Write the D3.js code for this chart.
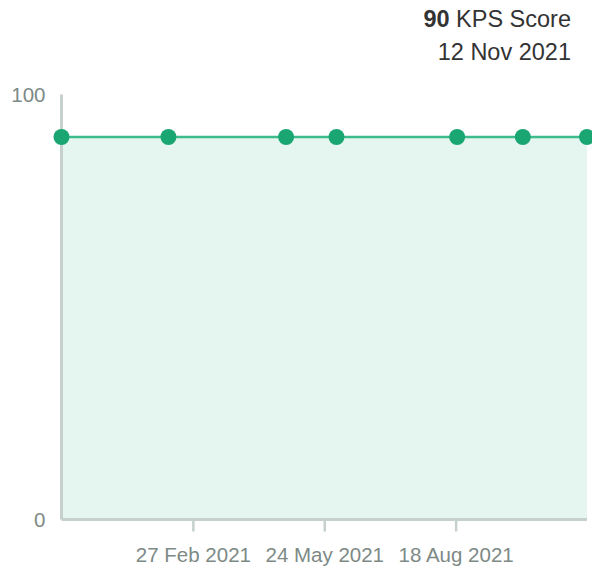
<!DOCTYPE html>
<html>
<head>
<meta charset="utf-8">
<script src="https://cdn.jsdelivr.net/npm/d3@7"></script>
<style>
  html, body { margin: 0; padding: 0; background: #fff; }
  svg { display: block; font-family: "Liberation Sans", Arial, sans-serif; }
</style>
</head>
<body>
<div id="chart"></div>
<script>
// KPS score history
const dates = ["2020-12-03", "2021-02-11", "2021-04-29", "2021-06-01", "2021-08-19", "2021-10-01", "2021-11-12"];
const scores = [90, 90, 90, 90, 90, 90, 90];
const tickDates = ["2021-02-27", "2021-05-24", "2021-08-18"];
const yTicks = [0, 100];

const parse = d3.utcParse("%Y-%m-%d");
const fmt = d3.utcFormat("%-d %b %Y");

const width = 592, height = 569;
const margin = { top: 94.5, right: 5, bottom: 49.5, left: 61.5 };

const svg = d3.select("#chart").append("svg")
  .attr("width", width)
  .attr("height", height);

const points = dates.map((d, i) => ({ date: parse(d), value: scores[i] }));

const x = d3.scaleUtc()
  .domain(d3.extent(points, (d) => d.date))
  .range([margin.left, width - margin.right]);

const y = d3.scaleLinear()
  .domain([0, 100])
  .range([height - margin.bottom, margin.top]);

const axisColor = "#c6d0cc";
const textColor = "#7d8a86";

// Area fill
svg.append("path")
  .datum(points)
  .attr("fill", "#e5f5ef")
  .attr("d", d3.area().x((d) => x(d.date)).y0(y(0)).y1((d) => y(d.value)));

// X axis
const xAxis = svg.append("g")
  .attr("transform", `translate(0,${y(0)})`)
  .call(d3.axisBottom(x)
    .tickValues(tickDates.map(parse))
    .tickFormat(fmt)
    .tickSize(12)
    .tickPadding(16));
xAxis.select(".domain").attr("stroke", axisColor).attr("stroke-width", 3)
  .attr("d", `M${x.range()[0]},0H${x.range()[1]}`);
xAxis.selectAll(".tick line").attr("stroke", axisColor).attr("stroke-width", 2.5);
xAxis.selectAll(".tick text").attr("fill", textColor).style("font-size", "20.5px");

// Y axis
const yAxis = svg.append("g")
  .attr("transform", `translate(${margin.left},0)`)
  .call(d3.axisLeft(y).tickValues(yTicks).tickSize(0).tickPadding(16));
yAxis.select(".domain").attr("stroke", axisColor).attr("stroke-width", 3)
  .attr("d", `M0,${y(100)}V${y(0)}`);
yAxis.selectAll(".tick text").attr("fill", textColor).style("font-size", "20.5px");

// Line
svg.append("path")
  .datum(points)
  .attr("fill", "none")
  .attr("stroke", "#3dbb8c")
  .attr("stroke-width", 2.5)
  .attr("d", d3.line().x((d) => x(d.date)).y((d) => y(d.value)));

// Points
svg.selectAll("circle.pt")
  .data(points)
  .join("circle")
  .attr("class", "pt")
  .attr("cx", (d) => x(d.date))
  .attr("cy", (d) => y(d.value))
  .attr("r", 8)
  .attr("fill", "#1aa673");

// Latest value header
const last = points[points.length - 1];
const header = svg.append("text")
  .attr("x", 571)
  .attr("y", 26.5)
  .attr("text-anchor", "end")
  .attr("fill", "#333")
  .style("font-size", "23.5px");
header.append("tspan").attr("font-weight", "bold").text(last.value);
header.append("tspan").text(" KPS Score");

svg.append("text")
  .attr("x", 571)
  .attr("y", 60)
  .attr("text-anchor", "end")
  .attr("fill", "#333")
  .style("font-size", "23.5px")
  .text(fmt(last.date));
</script>
</body>
</html>
